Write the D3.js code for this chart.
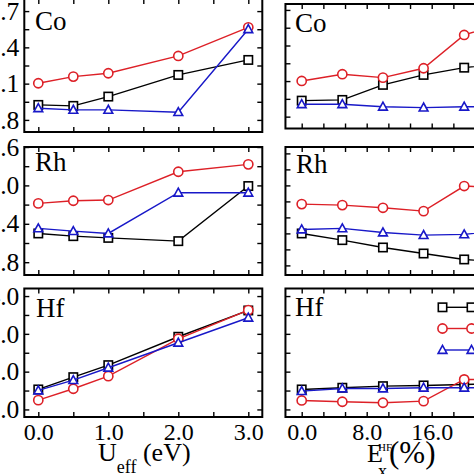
<!DOCTYPE html>
<html><head><meta charset="utf-8">
<script src="https://cdn.jsdelivr.net/npm/d3@7"></script>
<style>html,body{margin:0;padding:0;background:#fff;overflow:hidden}svg{display:block}</style>
</head><body>
<svg id="c" width="474" height="474"></svg>
<script>
// ---------- data ----------
const uEff = [0.0, 0.5, 1.0, 2.0, 3.0];
const exHF = [0, 5, 10, 15, 20, 25];

const coU_black = [1.924, 1.916, 1.993, 2.172, 2.296];
const coU_red   = [2.103, 2.158, 2.186, 2.329, 2.566];
const coU_blue  = [1.897, 1.883, 1.883, 1.864, 2.550];
const rhU_black = [1.249, 1.207, 1.180, 1.129, 1.990];
const rhU_red   = [1.719, 1.760, 1.771, 2.213, 2.329];
const rhU_blue  = [1.328, 1.285, 1.249, 1.885, 1.885];
const hfU_black = [1.529, 1.854, 2.172, 2.923, 3.619];
const hfU_red   = [1.246, 1.548, 1.881, 2.870, 3.627];
const hfU_blue  = [1.503, 1.775, 2.103, 2.765, 3.426];

const coX_black = [1.935, 1.941, 2.068, 2.152, 2.213, 2.25];
const coX_red   = [2.101, 2.158, 2.129, 2.208, 2.489, 2.59];
const coX_blue  = [1.905, 1.905, 1.884, 1.876, 1.884, 1.884];
const rhX_black = [1.249, 1.145, 1.030, 0.936, 0.843, 0.80];
const rhX_red   = [1.708, 1.692, 1.650, 1.598, 1.990, 1.958];
const rhX_blue  = [1.312, 1.328, 1.265, 1.223, 1.234, 1.30];
const hfX_black = [1.529, 1.574, 1.616, 1.635, 1.661, 1.68];
const hfX_red   = [1.238, 1.204, 1.177, 1.220, 1.794, 1.78];
const hfX_blue  = [1.484, 1.556, 1.556, 1.574, 1.574, 1.574];

const uTickLabels  = [0, 1, 2, 3];
const exTickLabels = [0, 8, 16, 24];
const coTickLabels = [1.8, 2.1, 2.4, 2.7];
const rhTickLabels = [0.8, 1.4, 2.0, 2.6];
const hfTickLabels = [1.0, 2.0, 3.0, 4.0];
const elements = ["Co", "Rh", "Hf"];

// ---------- styles ----------
const FONT = "'Liberation Serif','Times New Roman',serif";
const BLACK = "#000", RED = "#dd2027", BLUE = "#1818c8";
const svg = d3.select("#c");

const rng = (a, b, s) => { const out = []; for (let i = 0; a + i*s <= b + 1e-9; i++) out.push(+(a + i*s).toFixed(4)); return out; };

const xLeft  = d3.scaleLinear().domain([-0.2, 3.2]).range([24.3, 262.3]);
const xRight = d3.scaleLinear().domain([-2, 30]).range([285.45, 545.45]);
const xLeftTicks  = rng(0, 3, 0.5);
const xRightTicks = rng(0, 29, 8/3);

const panels = [
  {name: elements[0], x: xLeft,  xt: xLeftTicks,  xs: uEff, y: d3.scaleLinear().domain([1.7, 2.8]).range([132, -1]),
   yt: rng(1.8, 2.7, 0.15), yl: coTickLabels, series: [coU_black, coU_red, coU_blue], labelPos: [35, 30], col: 0, row: 0},
  {name: elements[0], x: xRight, xt: xRightTicks, xs: exHF, y: d3.scaleLinear().domain([1.7, 2.75]).range([128.5, 4]),
   yt: rng(1.8, 2.7, 0.15), yl: null, series: [coX_black, coX_red, coX_blue], labelPos: [295, 32], col: 1, row: 0},
  {name: elements[1], x: xLeft,  xt: xLeftTicks,  xs: uEff, y: d3.scaleLinear().domain([0.6, 2.6]).range([275, 147]),
   yt: rng(0.8, 2.6, 0.3), yl: rhTickLabels, series: [rhU_black, rhU_red, rhU_blue], labelPos: [35, 171], col: 0, row: 1},
  {name: elements[1], x: xRight, xt: xRightTicks, xs: exHF, y: d3.scaleLinear().domain([0.6, 2.6]).range([275, 147]),
   yt: rng(0.75, 2.5, 0.25), yl: null, series: [rhX_black, rhX_red, rhX_blue], labelPos: [296, 173], col: 1, row: 1},
  {name: elements[2], x: xLeft,  xt: xLeftTicks,  xs: uEff, y: d3.scaleLinear().domain([0.8, 4.2]).range([417, 288.5]),
   yt: rng(1.0, 4.0, 0.5), yl: hfTickLabels, series: [hfU_black, hfU_red, hfU_blue], labelPos: [36, 317], col: 0, row: 2},
  {name: elements[2], x: xRight, xt: xRightTicks, xs: exHF, y: d3.scaleLinear().domain([0.8, 4.2]).range([417, 288.5]),
   yt: rng(1.0, 4.0, 0.5), yl: null, series: [hfX_black, hfX_red, hfX_blue], labelPos: [295, 316], col: 1, row: 2},
];

const colors = [BLACK, RED, BLUE];
const shapes = ["square", "circle", "triangle"];

function marker(g, shape, color, cx, cy) {
  if (shape === "square") {
    g.append("rect").attr("x", cx - 4.2).attr("y", cy - 4.2).attr("width", 8.4).attr("height", 8.4)
      .attr("fill", "#fff").attr("stroke", color).attr("stroke-width", 1.6);
  } else if (shape === "circle") {
    g.append("circle").attr("cx", cx).attr("cy", cy).attr("r", 4.6)
      .attr("fill", "#fff").attr("stroke", color).attr("stroke-width", 1.6);
  } else {
    g.append("path").attr("d", `M${cx},${cy-4.6}L${cx-4.4},${cy+3.4}L${cx+4.4},${cy+3.4}Z`)
      .attr("fill", "#fff").attr("stroke", color).attr("stroke-width", 1.6).attr("stroke-linejoin", "miter");
  }
}

panels.forEach(p => {
  const [x0, x1] = p.x.range();
  const [y0, y1] = p.y.range(); // y0 bottom, y1 top
  const g = svg.append("g");

  // axes (ticks inward on all four sides)
  const fmt = v => "";
  const bottom = d3.axisBottom(p.x).tickValues(p.xt).tickSize(-5).tickPadding(6)
    .tickFormat(v => {
      if (p.row !== 2) return "";
      const labs = p.col === 0 ? uTickLabels : exTickLabels;
      return labs.some(l => Math.abs(l - v) < 1e-6) ? d3.format(".1f")(v) : "";
    });
  const gb = g.append("g").attr("transform", `translate(0,${y0})`).call(bottom);
  const gt = g.append("g").attr("transform", `translate(0,${y1})`).call(d3.axisTop(p.x).tickValues(p.xt).tickSize(-5).tickFormat(fmt));
  const left = d3.axisLeft(p.y).tickValues(p.yt).tickSize(-5).tickPadding(5)
    .tickFormat(v => (p.yl && p.yl.some(l => Math.abs(l - v) < 1e-6)) ? d3.format(".1f")(v) : "");
  const gl = g.append("g").attr("transform", `translate(${x0},0)`).call(left);
  const gr = g.append("g").attr("transform", `translate(${x1},0)`).call(d3.axisRight(p.y).tickValues(p.yt).tickSize(-5).tickFormat(fmt));
  [gb, gt, gl, gr].forEach(a => {
    a.select(".domain").remove();
    a.selectAll(".tick line").attr("stroke", "#000").attr("stroke-width", 1.4);
    a.selectAll("text").attr("font-family", FONT).attr("font-size", 24).attr("fill", "#000");
  });
  gl.selectAll("text").attr("font-size", 25.5);

  // frame
  g.append("rect").attr("x", x0).attr("y", y1).attr("width", x1 - x0).attr("height", y0 - y1)
    .attr("fill", "none").attr("stroke", "#000").attr("stroke-width", 2);

  // panel label
  g.append("text").attr("x", p.labelPos[0]).attr("y", p.labelPos[1]).text(p.name)
    .attr("font-family", FONT).attr("font-size", 27).attr("fill", "#000");

  // series
  p.series.forEach((vals, si) => {
    const pts = vals.map((v, i) => [p.x(p.xs[i]), p.y(v)]);
    g.append("path").attr("d", d3.line()(pts)).attr("fill", "none")
      .attr("stroke", colors[si]).attr("stroke-width", 1.4);
    const mg = g.append("g");
    pts.forEach(pt => marker(mg, shapes[si], colors[si], pt[0], pt[1]));
  });
});

// legend (Hf, right panel) – labels lie outside the visible area
const legY = [307.3, 328.5, 350];
const lg = svg.append("g");
colors.forEach((c, i) => {
  lg.append("line").attr("x1", 442.5).attr("x2", 471.5).attr("y1", legY[i]).attr("y2", legY[i])
    .attr("stroke", c).attr("stroke-width", 1.4);
  marker(lg, shapes[i], c, 442.5, legY[i]);
  marker(lg, shapes[i], c, 471.5, legY[i]);
});

// axis titles
const t1 = svg.append("text").attr("x", 98).attr("y", 461).attr("font-family", FONT).attr("font-size", 26).attr("fill", "#000");
t1.append("tspan").text("U");
t1.append("tspan").attr("font-size", 18).attr("dy", 12).text("eff");
t1.append("tspan").attr("dy", -12).text(" (eV)");

const t2 = svg.append("g").attr("font-family", FONT).attr("fill", "#000");
t2.append("text").attr("x", 367).attr("y", 462).attr("font-size", 26).text("E");
t2.append("text").attr("x", 378).attr("y", 451).attr("font-size", 11).text("HF");
t2.append("text").attr("x", 378).attr("y", 477).attr("font-size", 18).text("x");
t2.append("text").attr("x", 389).attr("y", 463).attr("font-size", 31).text("(%)");
</script>
</body></html>
